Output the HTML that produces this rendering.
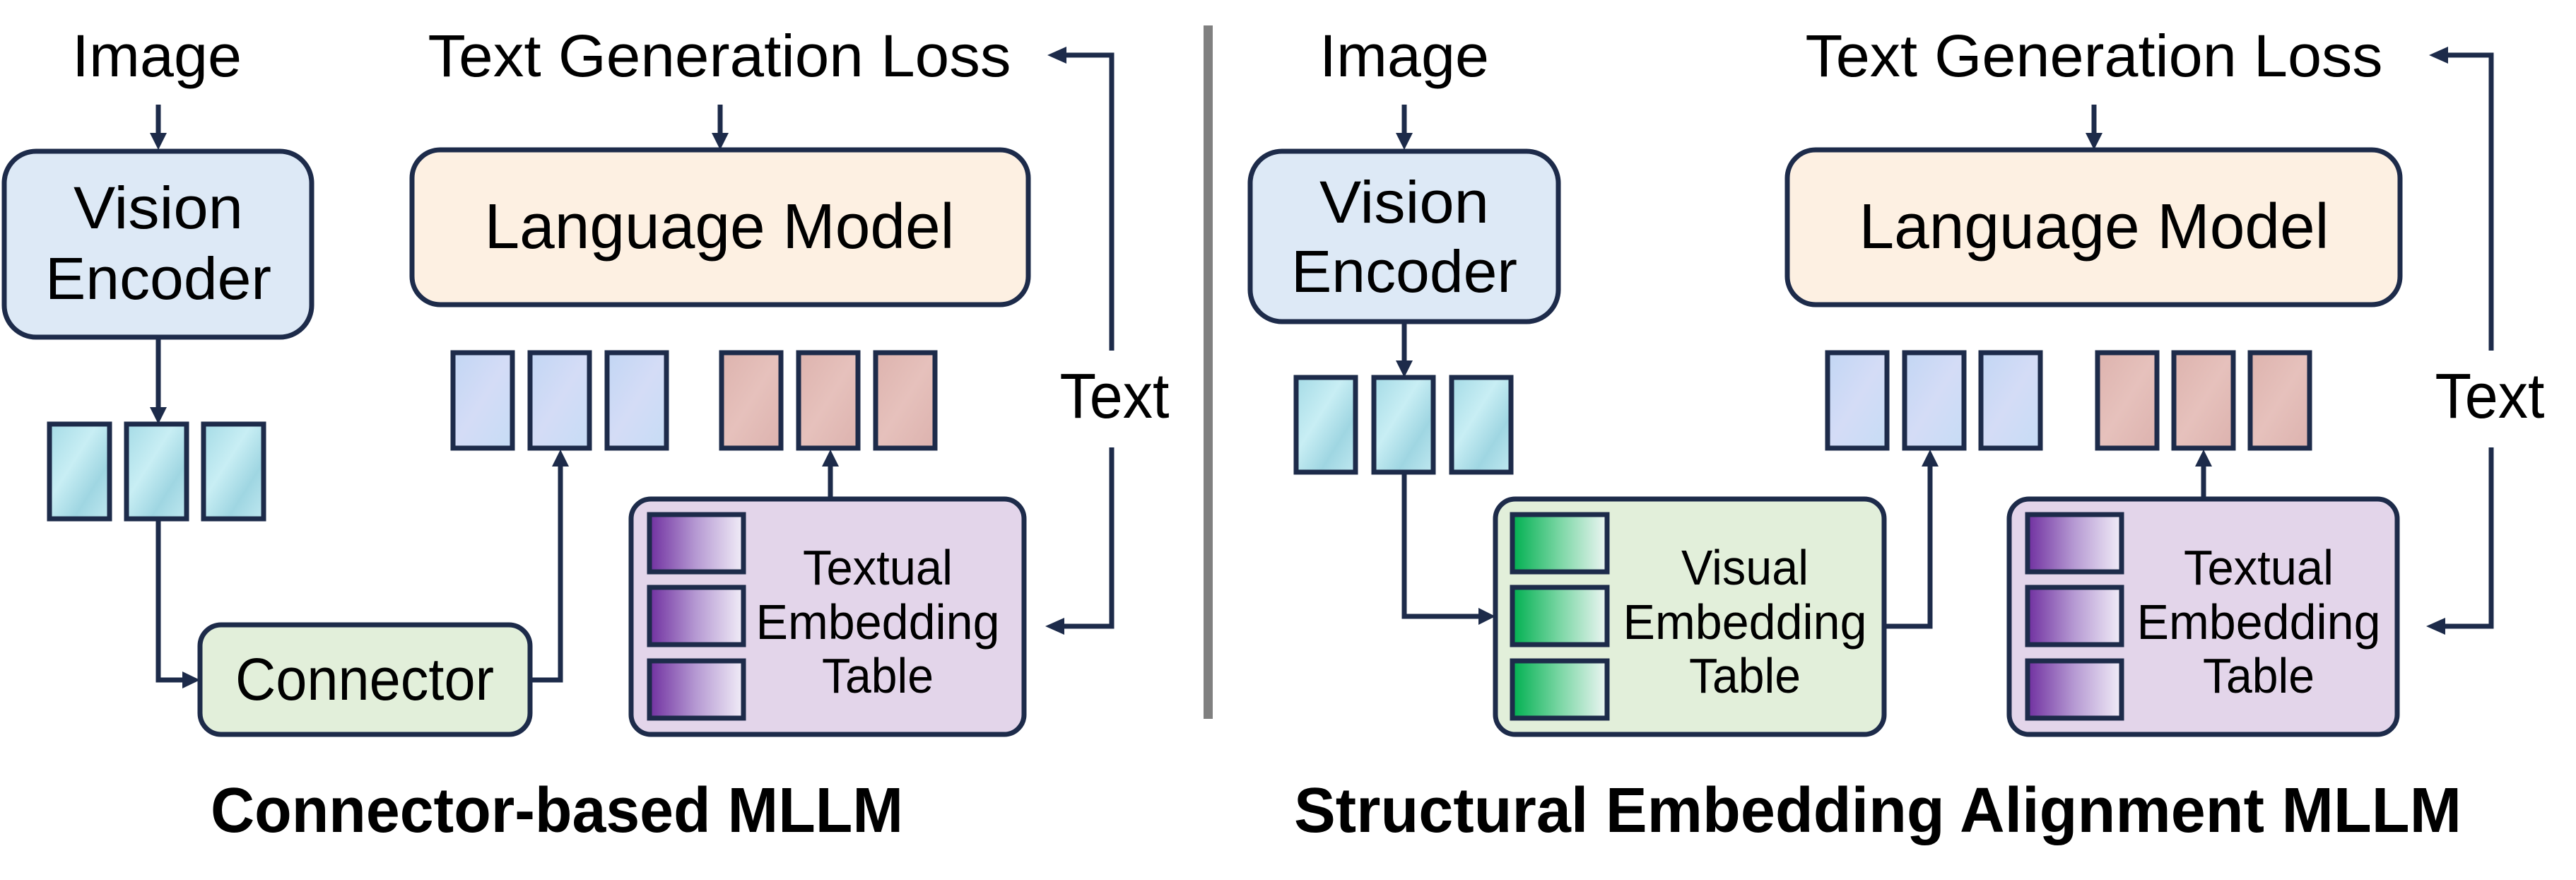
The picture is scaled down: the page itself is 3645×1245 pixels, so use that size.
<!DOCTYPE html>
<html><head><meta charset="utf-8"><style>
html,body{margin:0;padding:0;background:#fff;}
svg{display:block;}
text{font-family:"Liberation Sans",sans-serif;fill:#000;}
</style></head><body>
<svg width="3645" height="1245" viewBox="0 0 3645 1245" xmlns="http://www.w3.org/2000/svg">
<defs>
<linearGradient id="pur" x1="0" x2="1" y1="0" y2="0"><stop offset="0" stop-color="#7030a0"/><stop offset="0.5" stop-color="#b69ad3"/><stop offset="1" stop-color="#f2eef8"/></linearGradient>
<linearGradient id="grn" x1="0" x2="1" y1="0" y2="0"><stop offset="0" stop-color="#00b050"/><stop offset="0.5" stop-color="#7ad6a4"/><stop offset="1" stop-color="#eef6f4"/></linearGradient>
<linearGradient id="cyan" x1="0" x2="1" y1="0" y2="1"><stop offset="0" stop-color="#a5dbe6"/><stop offset="0.4" stop-color="#c8eef4"/><stop offset="0.7" stop-color="#9fd6e2"/><stop offset="1" stop-color="#bfe8f0"/></linearGradient>
<linearGradient id="blu" x1="0" x2="1" y1="0" y2="1"><stop offset="0" stop-color="#c2d6f4"/><stop offset="0.5" stop-color="#d4dcf6"/><stop offset="1" stop-color="#c6dcf5"/></linearGradient>
<linearGradient id="pnk" x1="0" x2="1" y1="0" y2="1"><stop offset="0" stop-color="#ddb3ae"/><stop offset="0.5" stop-color="#e6c1bc"/><stop offset="1" stop-color="#dcb2ae"/></linearGradient>
<marker id="ah" markerWidth="10" markerHeight="10" refX="9" refY="5" orient="auto" markerUnits="userSpaceOnUse" viewBox="0 0 10 10">
</marker>
</defs>
<g stroke="#1d2b4a" stroke-width="7" fill="none">
<!-- LEFT -->
<rect x="6" y="214" width="435" height="263" rx="45" fill="#dde9f6"/>
<rect x="583" y="212" width="872" height="219" rx="40" fill="#fdf0e2"/>
<rect x="283" y="884" width="467" height="155" rx="30" fill="#e2efda"/>
<rect x="893" y="706" width="556" height="333" rx="28" fill="#e3d5ea"/>
<!-- cyan tiles left -->
<rect x="70" y="600" width="85" height="134" fill="url(#cyan)"/>
<rect x="179" y="600" width="85" height="134" fill="url(#cyan)"/>
<rect x="288" y="600" width="85" height="134" fill="url(#cyan)"/>
<!-- blue tiles left -->
<rect x="641" y="499" width="84" height="135" fill="url(#blu)"/>
<rect x="750" y="499" width="84" height="135" fill="url(#blu)"/>
<rect x="859" y="499" width="84" height="135" fill="url(#blu)"/>
<rect x="1021" y="499" width="84" height="135" fill="url(#pnk)"/>
<rect x="1130" y="499" width="84" height="135" fill="url(#pnk)"/>
<rect x="1239" y="499" width="84" height="135" fill="url(#pnk)"/>
<!-- purple small tiles -->
<rect x="919" y="728" width="133" height="81" fill="url(#pur)"/>
<rect x="919" y="831" width="133" height="81" fill="url(#pur)"/>
<rect x="919" y="935" width="133" height="81" fill="url(#pur)"/>
<!-- lines -->
<line x1="224" y1="148" x2="224" y2="192"/>
<line x1="1019" y1="148" x2="1019" y2="192"/>
<line x1="224" y1="477" x2="224" y2="580"/>
<polyline points="224,737 224,962 262,962"/>
<polyline points="750,962 793,962 793,655"/>
<line x1="1175" y1="706" x2="1175" y2="655"/>
<polyline points="1573,496 1573,78 1505,78"/>
<polyline points="1573,633 1573,886 1500,886"/>

<!-- RIGHT -->
<rect x="1769" y="214" width="436" height="241" rx="45" fill="#dde9f6"/>
<rect x="2529" y="212" width="867" height="219" rx="40" fill="#fdf0e2"/>
<rect x="2116" y="706" width="550" height="333" rx="28" fill="#e2efda"/>
<rect x="2843" y="706" width="549" height="333" rx="28" fill="#e3d5ea"/>
<rect x="1834" y="534" width="84" height="134" fill="url(#cyan)"/>
<rect x="1944" y="534" width="84" height="134" fill="url(#cyan)"/>
<rect x="2054" y="534" width="84" height="134" fill="url(#cyan)"/>
<rect x="2586" y="499" width="84" height="135" fill="url(#blu)"/>
<rect x="2695" y="499" width="84" height="135" fill="url(#blu)"/>
<rect x="2803" y="499" width="84" height="135" fill="url(#blu)"/>
<rect x="2968" y="499" width="84" height="135" fill="url(#pnk)"/>
<rect x="3076" y="499" width="84" height="135" fill="url(#pnk)"/>
<rect x="3184" y="499" width="84" height="135" fill="url(#pnk)"/>
<rect x="2140" y="728" width="134" height="81" fill="url(#grn)"/>
<rect x="2140" y="831" width="134" height="81" fill="url(#grn)"/>
<rect x="2140" y="935" width="134" height="81" fill="url(#grn)"/>
<rect x="2869" y="728" width="133" height="81" fill="url(#pur)"/>
<rect x="2869" y="831" width="133" height="81" fill="url(#pur)"/>
<rect x="2869" y="935" width="133" height="81" fill="url(#pur)"/>
<line x1="1987" y1="148" x2="1987" y2="192"/>
<line x1="2963" y1="148" x2="2963" y2="192"/>
<line x1="1987" y1="455" x2="1987" y2="514"/>
<polyline points="1987,668 1987,872 2096,872"/>
<polyline points="2666,886 2731,886 2731,655"/>
<line x1="3118" y1="706" x2="3118" y2="655"/>
<polyline points="3525,496 3525,78 3460,78"/>
<polyline points="3525,633 3525,886 3455,886"/>
</g>
<!-- arrowheads -->
<g fill="#1d2b4a">
<polygon points="212,188 236,188 224,212"/>
<polygon points="1007,188 1031,188 1019,212"/>
<polygon points="212,576 236,576 224,600"/>
<polygon points="258,950 258,974 283,962"/>
<polygon points="781,660 805,660 793,636"/>
<polygon points="1163,660 1187,660 1175,636"/>
<polygon points="1509,66 1509,90 1482,78"/>
<polygon points="1506,874 1506,898 1479,886"/>
<polygon points="1975,188 1999,188 1987,212"/>
<polygon points="2951,188 2975,188 2963,212"/>
<polygon points="1975,510 1999,510 1987,534"/>
<polygon points="2092,860 2092,884 2116,872"/>
<polygon points="2719,660 2743,660 2731,636"/>
<polygon points="3106,660 3130,660 3118,636"/>
<polygon points="3464,66 3464,90 3437,78"/>
<polygon points="3460,874 3460,898 3433,886"/>
</g>
<rect x="1703" y="36" width="13" height="981" fill="#808080"/>
<!-- text -->
<g font-size="84" text-anchor="middle">
<text x="222" y="108" textLength="240" lengthAdjust="spacingAndGlyphs">Image</text>
<text x="1018" y="108" textLength="825" lengthAdjust="spacingAndGlyphs">Text Generation Loss</text>
<text x="224" y="323" textLength="240" lengthAdjust="spacingAndGlyphs">Vision</text>
<text x="224" y="423" textLength="320" lengthAdjust="spacingAndGlyphs">Encoder</text>
<text x="1018" y="351" font-size="90" textLength="665" lengthAdjust="spacingAndGlyphs">Language Model</text>
<text x="516" y="990" textLength="366" lengthAdjust="spacingAndGlyphs">Connector</text>
<text x="1577" y="591" font-size="90" textLength="155" lengthAdjust="spacingAndGlyphs">Text</text>
<text x="1987" y="108" textLength="240" lengthAdjust="spacingAndGlyphs">Image</text>
<text x="2963" y="108" textLength="817" lengthAdjust="spacingAndGlyphs">Text Generation Loss</text>
<text x="1987" y="315" textLength="240" lengthAdjust="spacingAndGlyphs">Vision</text>
<text x="1987" y="413" textLength="320" lengthAdjust="spacingAndGlyphs">Encoder</text>
<text x="2963" y="351" font-size="90" textLength="665" lengthAdjust="spacingAndGlyphs">Language Model</text>
<text x="3523" y="591" font-size="90" textLength="155" lengthAdjust="spacingAndGlyphs">Text</text>
</g>
<g font-size="70" text-anchor="middle">
<text x="1242" y="827" textLength="212" lengthAdjust="spacingAndGlyphs">Textual</text>
<text x="1242" y="904" textLength="345" lengthAdjust="spacingAndGlyphs">Embedding</text>
<text x="1242" y="980" textLength="158" lengthAdjust="spacingAndGlyphs">Table</text>
<text x="2469" y="827" textLength="180" lengthAdjust="spacingAndGlyphs">Visual</text>
<text x="2469" y="904" textLength="345" lengthAdjust="spacingAndGlyphs">Embedding</text>
<text x="2469" y="980" textLength="158" lengthAdjust="spacingAndGlyphs">Table</text>
<text x="3196" y="827" textLength="212" lengthAdjust="spacingAndGlyphs">Textual</text>
<text x="3196" y="904" textLength="345" lengthAdjust="spacingAndGlyphs">Embedding</text>
<text x="3196" y="980" textLength="158" lengthAdjust="spacingAndGlyphs">Table</text>
</g>
<g font-size="90" font-weight="bold" text-anchor="middle">
<text x="788" y="1177" textLength="980" lengthAdjust="spacingAndGlyphs">Connector-based MLLM</text>
<text x="2657" y="1177" textLength="1652" lengthAdjust="spacingAndGlyphs">Structural Embedding Alignment MLLM</text>
</g>
</svg>
</body></html>
